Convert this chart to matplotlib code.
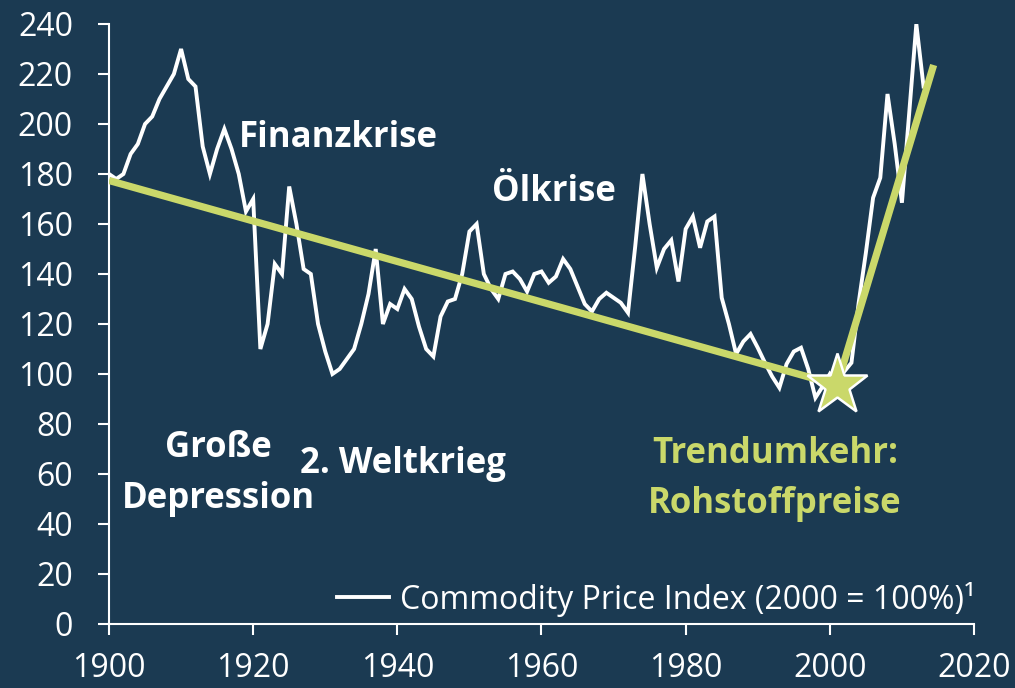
import matplotlib
matplotlib.use("Agg")
import matplotlib.pyplot as plt
from matplotlib.lines import Line2D

plt.rcParams['font.family'] = ['Open Sans', 'DejaVu Sans']

years = list(range(1900, 2014))
index_values = [
    180, 178, 180, 188, 192, 200, 203, 210, 215, 220,   # 1900-1909
    230, 218, 215, 191, 180, 190, 198, 190, 180, 165,   # 1910-1919
    170, 110, 120, 144, 140, 175, 160, 142, 140, 120,   # 1920-1929
    109, 100, 102, 106, 110, 120, 132, 150, 120, 128,   # 1930-1939
    126, 134, 130, 119, 110, 107, 123, 129, 130, 140,   # 1940-1949
    157, 160, 140, 134, 130, 140, 141, 138, 133, 140,   # 1950-1959
    141, 136.5, 139, 146, 142, 135, 128, 125, 130, 132.5,  # 1960-1969
    130.5, 128.5, 124.5, 151, 180, 160, 142.5, 150, 153.5, 137,  # 1970-1979
    158, 163, 150.5, 161, 163, 130.5, 120, 108, 113, 116,  # 1980-1989
    110.5, 104.5, 99, 94.5, 104, 109, 110.5, 102, 90.5, 95,  # 1990-1999
    100, 96, 101, 104.5, 128.5, 148.5, 170.5, 178.5, 212, 192,  # 2000-2009
    168.5, 204, 240, 215,                                # 2010-2013
]

trend_years = [1900, 2001, 2014.4]
trend_values = [177.4, 95.6, 223.6]
star_year, star_value = 2001, 95.6

x_ticks = [1900, 1920, 1940, 1960, 1980, 2000, 2020]
y_ticks = list(range(0, 241, 20))
legend_label = "Commodity Price Index (2000 = 100%)¹"

annotations = [
    ("Finanzkrise", 1931.8, 190.9, 'white'),
    ("Ölkrise", 1961.7, 169.0, 'white'),
    ("Große", 1915.2, 66.9, 'white'),
    ("Depression", 1915.2, 46.4, 'white'),
    ("2. Weltkrieg", 1940.8, 60.4, 'white'),
    ("Trendumkehr:", 1992.4, 64.5, '#cad86a'),
    ("Rohstoffpreise", 1992.4, 44.5, '#cad86a'),
]

BG = '#1b3a52'
GREEN = '#cad86a'

fig = plt.figure(figsize=(10.15, 6.88), dpi=100, facecolor=BG)
ax = fig.add_axes([109/1015, 1-624/688, (974-109)/1015, (624-24)/688])
ax.set_facecolor(BG)

ax.plot(years, index_values, color='white', lw=2.8, solid_joinstyle='miter', zorder=3)
ax.plot(trend_years, trend_values, color=GREEN, lw=5.2, solid_capstyle='butt', zorder=4)
ax.plot([star_year], [star_value], marker='*', markersize=46, color=GREEN,
        markeredgecolor='white', markeredgewidth=1.8, zorder=5, linestyle='none')

for txt, xx, yy, col in annotations:
    ax.text(xx, yy, txt, color=col, fontsize=25, fontweight='bold',
            ha='center', va='baseline', zorder=6)

ax.set_xlim(1900, 2020)
ax.set_ylim(0, 240)
ax.set_xticks(x_ticks)
ax.set_yticks(y_ticks)
for s in ['top', 'right']:
    ax.spines[s].set_visible(False)
for s in ['left', 'bottom']:
    ax.spines[s].set_color('white')
    ax.spines[s].set_linewidth(1.5)
ax.tick_params(axis='both', colors='white', labelsize=23, width=1.5, length=8,
               direction='out')
ax.tick_params(axis='y', pad=18)
ax.tick_params(axis='x', pad=12)

handle = Line2D([], [], color='white', lw=2.8)
leg = ax.legend([handle], [legend_label], loc='lower right', frameon=False,
                fontsize=23, labelcolor='white', handlelength=1.6, handletextpad=0.35,
                bbox_to_anchor=(1.027, -0.025), borderaxespad=0.3)

fig.savefig('out.png', dpi=100, facecolor=BG)
